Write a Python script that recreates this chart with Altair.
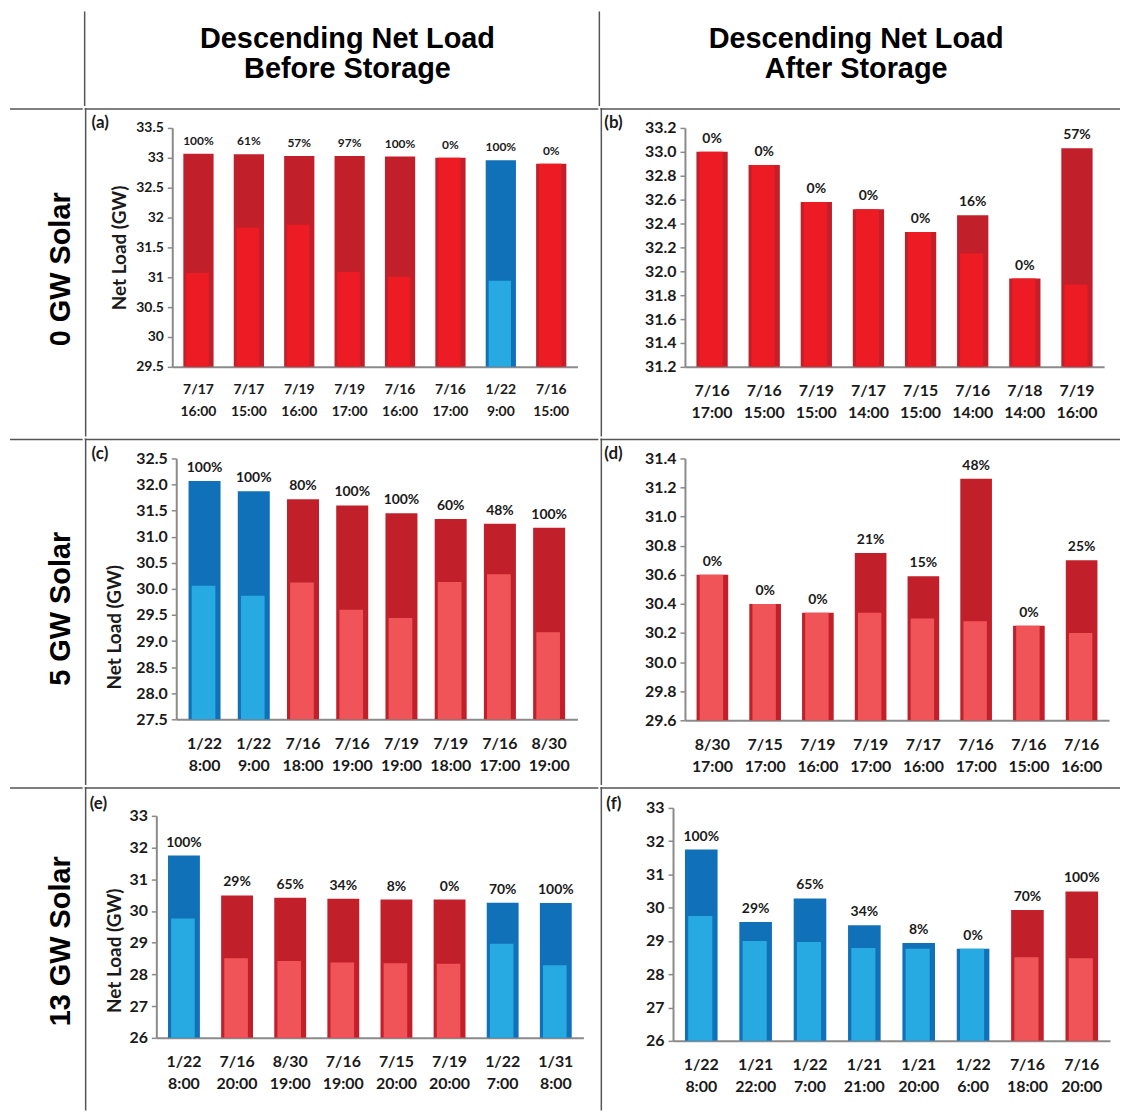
import altair as alt
import pandas as pd

# ---------------- data ----------------
A_LABELS = ["7/17 16:00", "7/17 15:00", "7/19 16:00", "7/19 17:00", "7/16 16:00", "7/16 17:00", "1/22 9:00", "7/16 15:00"]
A_TOTAL = [33.07, 33.06, 33.03, 33.03, 33.02, 33.00, 32.96, 32.90]
A_INNER = [31.07, 31.83, 31.88, 31.09, 31.01, 33.00, 30.94, 32.90]
A_PCT = ["100%", "61%", "57%", "97%", "100%", "0%", "100%", "0%"]
A_KIND = ["S", "S", "S", "S", "S", "S", "W", "S"]
A_TICKS = [29.5, 30.0, 30.5, 31.0, 31.5, 32.0, 32.5, 33.0, 33.5]

B_LABELS = ["7/16 17:00", "7/16 15:00", "7/19 15:00", "7/17 14:00", "7/15 15:00", "7/16 14:00", "7/18 14:00", "7/19 16:00"]
B_TOTAL = [33.00, 32.89, 32.58, 32.52, 32.33, 32.47, 31.94, 33.03]
B_INNER = [33.00, 32.89, 32.58, 32.52, 32.33, 32.15, 31.94, 31.89]
B_PCT = ["0%", "0%", "0%", "0%", "0%", "16%", "0%", "57%"]
B_KIND = ["S", "S", "S", "S", "S", "S", "S", "S"]
B_TICKS = [31.2, 31.4, 31.6, 31.8, 32.0, 32.2, 32.4, 32.6, 32.8, 33.0, 33.2]

C_LABELS = ["1/22 8:00", "1/22 9:00", "7/16 18:00", "7/16 19:00", "7/19 19:00", "7/19 18:00", "7/16 17:00", "8/30 19:00"]
C_TOTAL = [32.07, 31.87, 31.72, 31.60, 31.45, 31.34, 31.25, 31.17]
C_INNER = [30.06, 29.87, 30.12, 29.60, 29.44, 30.13, 30.28, 29.17]
C_PCT = ["100%", "100%", "80%", "100%", "100%", "60%", "48%", "100%"]
C_KIND = ["W", "W", "S", "S", "S", "S", "S", "S"]
C_TICKS = [27.5, 28.0, 28.5, 29.0, 29.5, 30.0, 30.5, 31.0, 31.5, 32.0, 32.5]

D_LABELS = ["8/30 17:00", "7/15 17:00", "7/19 16:00", "7/19 17:00", "7/17 16:00", "7/16 17:00", "7/16 15:00", "7/16 16:00"]
D_TOTAL = [30.60, 30.40, 30.34, 30.75, 30.59, 31.26, 30.25, 30.70]
D_INNER = [30.60, 30.40, 30.34, 30.34, 30.30, 30.28, 30.25, 30.20]
D_PCT = ["0%", "0%", "0%", "21%", "15%", "48%", "0%", "25%"]
D_KIND = ["S", "S", "S", "S", "S", "S", "S", "S"]
D_TICKS = [29.6, 29.8, 30.0, 30.2, 30.4, 30.6, 30.8, 31.0, 31.2, 31.4]

E_LABELS = ["1/22 8:00", "7/16 20:00", "8/30 19:00", "7/16 19:00", "7/15 20:00", "7/19 20:00", "1/22 7:00", "1/31 8:00"]
E_TOTAL = [31.75, 30.49, 30.42, 30.39, 30.36, 30.36, 30.26, 30.25]
E_INNER = [29.76, 28.51, 28.42, 28.38, 28.35, 28.34, 28.97, 28.29]
E_PCT = ["100%", "29%", "65%", "34%", "8%", "0%", "70%", "100%"]
E_KIND = ["W", "S", "S", "S", "S", "S", "W", "W"]
E_TICKS = [26, 27, 28, 29, 30, 31, 32, 33]

F_LABELS = ["1/22 8:00", "1/21 22:00", "1/22 7:00", "1/21 21:00", "1/21 20:00", "1/22 6:00", "7/16 18:00", "7/16 20:00"]
F_TOTAL = [31.75, 29.57, 30.28, 29.47, 28.94, 28.77, 29.93, 30.49]
F_INNER = [29.75, 29.00, 28.97, 28.79, 28.77, 28.77, 28.51, 28.48]
F_PCT = ["100%", "29%", "65%", "34%", "8%", "0%", "70%", "100%"]
F_KIND = ["W", "W", "W", "W", "W", "W", "S", "S"]
F_TICKS = [26, 27, 28, 29, 30, 31, 32, 33]

COL_HEADERS = [["Descending Net Load", "Before Storage"], ["Descending Net Load", "After Storage"]]
ROW_HEADERS = ["0 GW Solar", "5 GW Solar", "13 GW Solar"]
Y_TITLE = "Net Load (GW)"

# ---------------- style ----------------
FONT = "Lato"
HFONT = "Liberation Sans"
DARK_RED = "#C1202A"
DARK_BLUE = "#1070B8"
BRIGHT_RED = "#ED1C24"
SALMON = "#F05458"
LIGHT_BLUE = "#27AAE1"
TXT = "#1a1a1a"
AX = "#8a8a8a"
LINE = "#555555"
LW = 1.5
H = LW / 2
HDR_H = 95
NOVIEW = alt.ViewBackground(stroke="transparent", strokeWidth=0)

ONE = pd.DataFrame({"k": [0]})


def frame(x1, x2, y1, y2):
    return alt.Chart(ONE).mark_rect(opacity=0).encode(
        x=alt.value(x1), x2=alt.value(x2), y=alt.value(y1), y2=alt.value(y2))


def rule(x1, x2, y1, y2):
    return alt.Chart(ONE).mark_rule(color=LINE, strokeWidth=LW, strokeCap="square").encode(
        x=alt.value(x1), x2=alt.value(x2), y=alt.value(y1), y2=alt.value(y2))


def label(txt, x, y, **kw):
    return alt.Chart(ONE).mark_text(text=txt, **kw).encode(x=alt.value(x), y=alt.value(y))


def vline(x, y1, y2):
    return (x, x, y1 + H, y2 - H)


def hline(y, x1, x2):
    return (x1 + H, x2 - H, y, y)


def panel(labels, total, inner, pct, kind, ticks, fmt, w, h, box, letter, lpos,
          inner_red, ytitle=None, tpos=(0, 0), pin=0.4, pout=0.22, tick_fs=16, x_fs=16,
          pct_fs=14, top=0):
    lo, hi = ticks[0], ticks[-1]
    df = pd.DataFrame({"label": labels, "total": total, "inner": inner, "pct": pct, "kind": kind})
    df["base"] = lo
    xenc = alt.X("label:N", sort=labels,
                 scale=alt.Scale(paddingInner=pin, paddingOuter=pout),
                 axis=alt.Axis(title=None, ticks=False, labelAngle=0,
                               labelExpr="split(datum.label, ' ')",
                               labelFont=FONT, labelFontSize=x_fs, labelFontWeight="bold",
                               labelColor=TXT, labelLineHeight=22, labelPadding=16,
                               domainColor=AX, domainWidth=2, grid=False))
    yk = dict(values=ticks, format=fmt, grid=False, domainColor=AX, domainWidth=2,
              tickColor=AX, tickSize=5, tickWidth=1.5, labelFont=FONT,
              labelFontSize=tick_fs, labelFontWeight="bold", labelColor=TXT, labelPadding=4)
    if ytitle:
        yk.update(title=ytitle, titleX=tpos[0], titleY=tpos[1], titleAngle=270,
                  titleAlign="center", titleBaseline="middle", titleFont=FONT,
                  titleFontSize=19, titleFontWeight="bold", titleColor=TXT)
    else:
        yk.update(title=None)
    if top:
        yscale = alt.Scale(domain=[lo, hi], nice=False, zero=False, range=[h, top])
    else:
        yscale = alt.Scale(domain=[lo, hi], nice=False, zero=False)

    def yenc(f):
        return alt.Y(f + ":Q", scale=yscale, axis=alt.Axis(**yk))

    base = alt.Chart(df)
    outer = base.mark_bar().encode(
        x=xenc, y=yenc("total"), y2=alt.Y2("base:Q"),
        color=alt.when(alt.datum.kind == "W").then(alt.value(DARK_BLUE)).otherwise(alt.value(DARK_RED)))
    inn = base.mark_bar(width=alt.RelativeBandSize(0.74), xOffset=-1).encode(
        x=xenc, y=yenc("inner"), y2=alt.Y2("base:Q"),
        color=alt.when(alt.datum.kind == "W").then(alt.value(LIGHT_BLUE)).otherwise(alt.value(inner_red)))
    txt = base.mark_text(dy=-13, baseline="middle", font=FONT, fontSize=pct_fs,
                         fontWeight="bold", color=TXT).encode(
        x=xenc, y=yenc("total"), text="pct:N")
    x1, x2, y1, y2 = box
    layers = [frame(*box), outer, inn, txt,
              rule(*vline(x1 + 1, y1, y2)), rule(*hline(y1 + 1, x1, x2))]
    layers.append(label(letter, lpos[0], lpos[1], align="left", baseline="middle",
                        font=FONT, fontSize=17, fontWeight="bold", color=TXT))
    return alt.layer(*layers).properties(width=w, height=h, view=NOVIEW)


# ---------------- header row ----------------
hdr_kw = dict(align="center", baseline="alphabetic", font=HFONT, fontSize=29,
              fontWeight="bold", color="#000000")
corner = frame(0, 75, 0, HDR_H).properties(width=75, height=HDR_H, view=NOVIEW)
head_left = alt.layer(
    frame(0, 516, 0, HDR_H), rule(*vline(1, 0, HDR_H)),
    label(COL_HEADERS[0][0], 265, 37, **hdr_kw), label(COL_HEADERS[0][1], 265, 67, **hdr_kw),
).properties(width=516, height=HDR_H, view=NOVIEW)
head_right = alt.layer(
    frame(0, 522, 0, HDR_H), rule(*vline(1, 0, HDR_H)),
    label(COL_HEADERS[1][0], 259, 37, **hdr_kw), label(COL_HEADERS[1][1], 259, 67, **hdr_kw),
).properties(width=522, height=HDR_H, view=NOVIEW)

row_kw = dict(align="center", baseline="middle", angle=270, font=HFONT, fontSize=29,
              fontWeight="bold", color="#000000")


def row_label(txt, rh, t, cy):
    return alt.layer(
        frame(0, 75, -t, rh - t), rule(*hline(-t + 1, 2, 75)), label(txt, 53, cy - t, **row_kw)
    ).properties(width=75, height=rh - t, view=NOVIEW)


# ---------------- panels ----------------
pa = panel(A_LABELS, A_TOTAL, A_INNER, A_PCT, A_KIND, A_TICKS, "~g", 407, 240,
           (-88, 428, -20, 310), "(a)", (-81, -5), BRIGHT_RED, ytitle=Y_TITLE,
           tpos=(-53, 120), tick_fs=14, x_fs=14, pct_fs=12)
pb = panel(B_LABELS, B_TOTAL, B_INNER, B_PCT, B_KIND, B_TICKS, ".1f", 421, 240,
           (-85, 437, -20, 310), "(b)", (-81, -5), BRIGHT_RED)
pc = panel(C_LABELS, C_TOTAL, C_INNER, C_PCT, C_KIND, C_TICKS, ".1f", 403, 262,
           (-92, 424, -20, 328), "(c)", (-85, -4), SALMON, ytitle=Y_TITLE,
           tpos=(-62, 169), pin=0.35, pout=0.25)
pd_ = panel(D_LABELS, D_TOTAL, D_INNER, D_PCT, D_KIND, D_TICKS, ".1f", 426, 263,
            (-85, 437, -20, 328), "(d)", (-81, -4), SALMON)
pe = panel(E_LABELS, E_TOTAL, E_INNER, E_PCT, E_KIND, E_TICKS, "d", 429, 231,
           (-72, 444, -21, 304), "(e)", (-67, -4), SALMON, ytitle=Y_TITLE,
           tpos=(-42, 143), top=8)
pf = panel(F_LABELS, F_TOTAL, F_INNER, F_PCT, F_KIND, F_TICKS, "d", 439, 234,
           (-73, 449, -21, 304), "(f)", (-67, -4), SALMON)

row0 = alt.hconcat(corner, head_left, head_right, spacing=0)
row1 = alt.hconcat(row_label(ROW_HEADERS[0], 330, 20, 162), pa, pb, spacing=0).resolve_scale(x="independent", y="independent")
row2 = alt.hconcat(row_label(ROW_HEADERS[1], 348, 20, 171), pc, pd_, spacing=0).resolve_scale(x="independent", y="independent")
row3 = alt.hconcat(row_label(ROW_HEADERS[2], 325, 21, 155), pe, pf, spacing=0).resolve_scale(x="independent", y="independent")

chart = (
    alt.vconcat(row0, row1, row2, row3, spacing=0)
    .resolve_scale(x="independent", y="independent")
    .properties(padding=0, background="white")
    .configure(font=FONT, view=alt.ViewConfig(stroke="transparent", strokeWidth=0))
)

chart.save("out.html", embed_options={"renderer": "svg", "actions": False})
